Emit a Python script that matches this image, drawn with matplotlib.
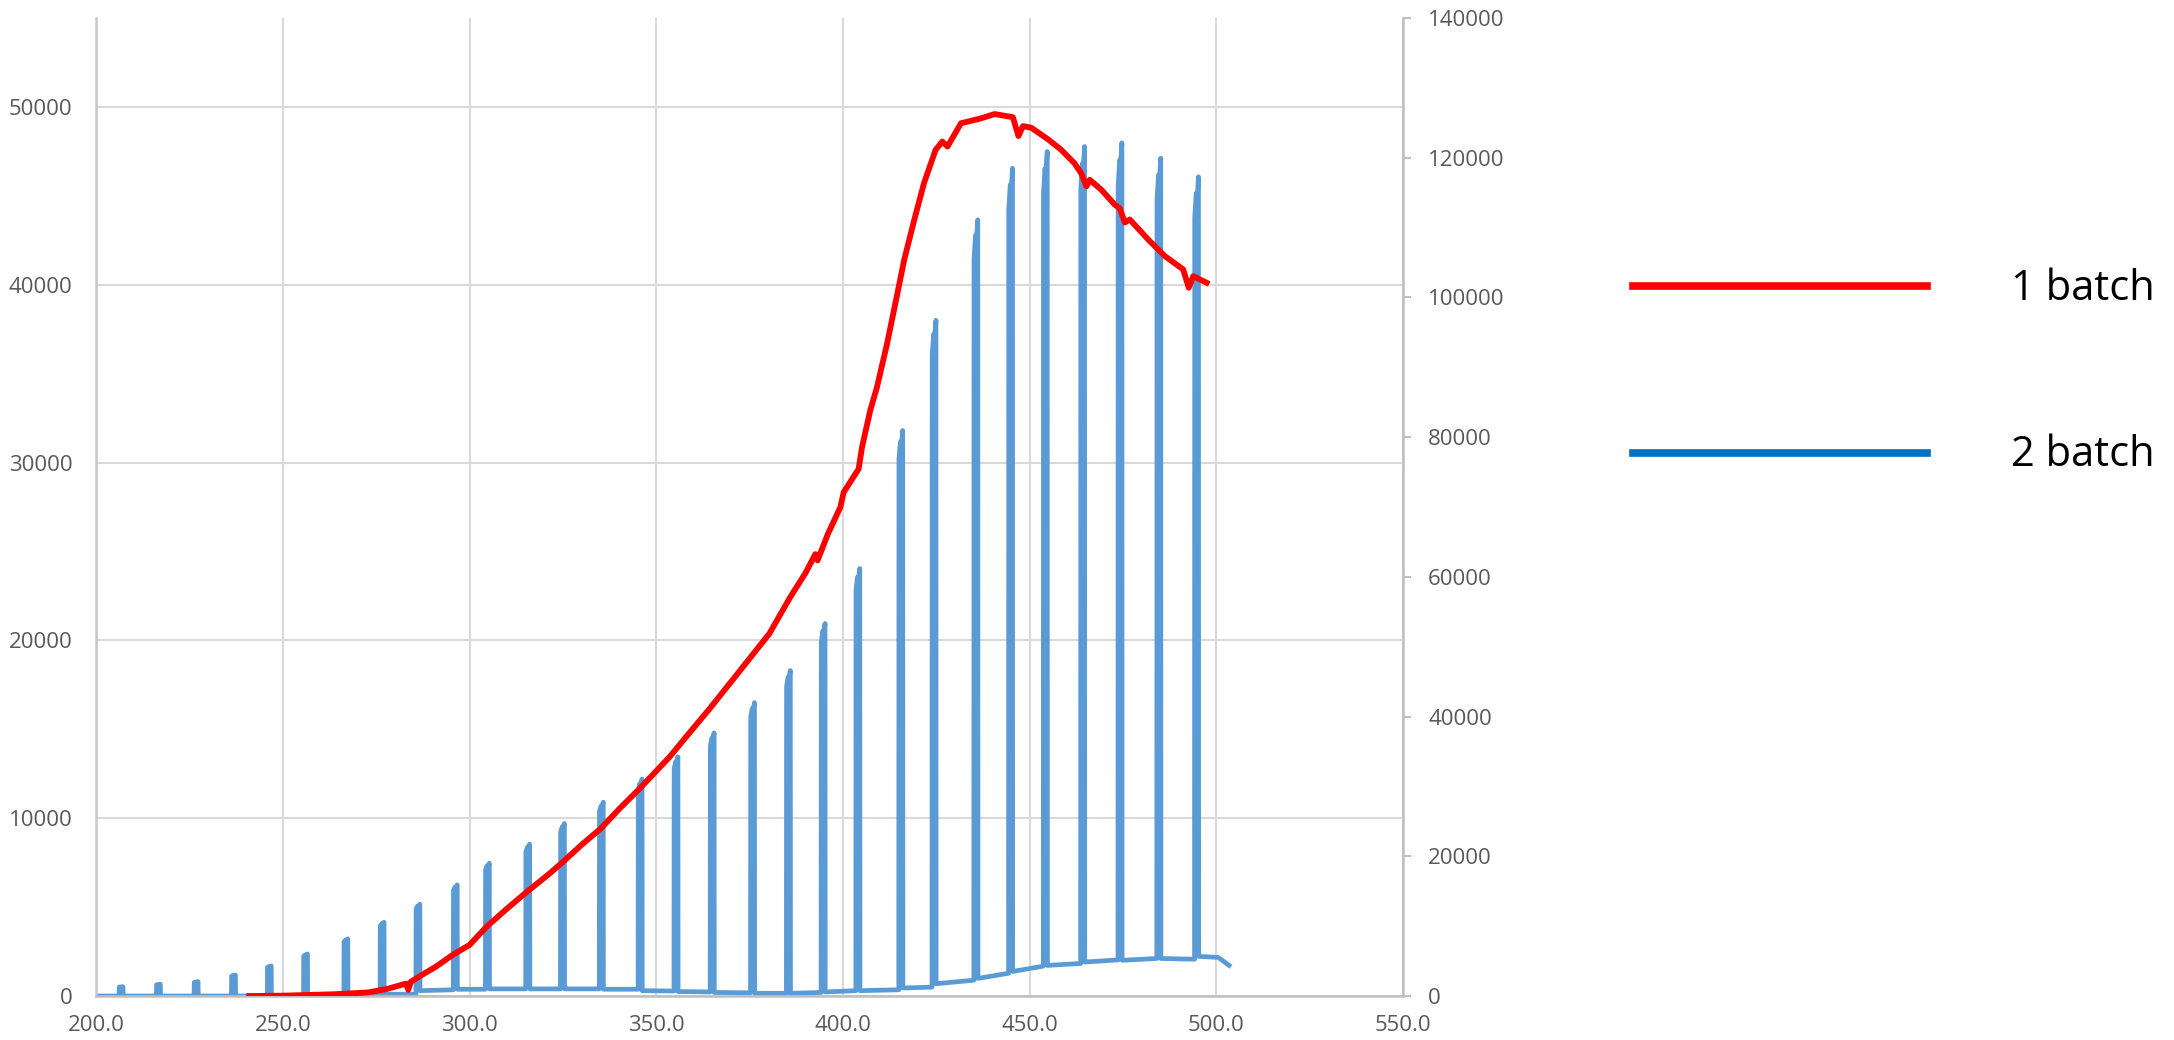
import matplotlib
matplotlib.use('Agg')
import numpy as np
import matplotlib.pyplot as plt
from matplotlib.lines import Line2D
from matplotlib.ticker import FuncFormatter

# 1 batch (red, right axis)
red_x = [241.0, 250, 263.6, 272.8, 278, 283, 283.6, 284.3, 287, 291, 295.4, 300,
         304.6, 309.7, 314.9, 321.5, 325.1, 330, 335.2, 340, 345.6, 353.6, 358.5,
         364.3, 371.4, 380.3, 385.8, 390, 392.6, 393.2, 396, 399.3, 400.2, 404.2,
         405.1, 407.3, 409.1, 411.8, 414.6, 416.4, 419.1, 421.7, 424.8, 426.6,
         428.0, 431.6, 437.0, 440.6, 445.5, 447.0, 448.2, 450.4, 454.9, 458.5,
         462.0, 463.8, 465.2, 466.1, 469.2, 472.8, 474.1, 475.5, 476.8, 481.7,
         486.2, 491.1, 492.6, 493.8, 497.4]
red_y = [0, 50, 250, 510, 1020, 1780, 890, 2040, 2930, 4200, 5850, 7310,
         9930, 12350, 14710, 17560, 19240, 21640, 24000, 26730, 29710, 34240, 37420,
         41130, 45890, 51880, 57020, 60580, 63250, 62360, 66180, 69970, 72110, 75450,
         78550, 83800, 87130, 93340, 100620, 105380, 111110, 116350, 121110, 122310,
         121600, 124930, 125640, 126250, 125800, 123100, 124520, 124300, 122640, 121110,
         119200, 117780, 115890, 116840, 115410, 113270, 112760, 110730, 111160, 108310,
         105920, 104010, 101390, 103040, 102100]

# 2 batch (blue, left axis): pulses
spike_x = [206.7, 216.7, 226.8, 236.8, 246.4, 256.1, 266.9, 276.6, 286.2, 296.2,
           304.8, 315.6, 324.9, 335.3, 345.7, 355.3, 365.0, 375.8, 385.4, 394.7,
           404.0, 415.5, 424.4, 435.6, 444.9, 454.2, 464.2, 474.2, 484.6, 494.7]
spike_top = [525, 660, 810, 1180, 1690, 2360, 3210, 4150, 5160, 6250,
             7470, 8540, 9700, 10900, 12200, 13450, 14800, 16500, 18300, 20950,
             24040, 31800, 38000, 43650, 46550, 47490, 47770, 47980, 47120, 46070]
base_before = [0, 0, 0, 0, 0, 0, 0, 50, 100, 350,
               380, 400, 400, 400, 380, 280, 230, 180, 150, 200,
               300, 350, 500, 890, 1280, 1680, 1830, 2030, 2110, 2070]
base_after = [0, 0, 0, 0, 0, 0, 50, 100, 300, 380,
              400, 400, 400, 380, 300, 250, 200, 150, 150, 230,
              300, 450, 690, 990, 1380, 1720, 1910, 2010, 2110, 2230]
blue_start = (200.0, 0)
blue_tail_x = [500.5, 503.4]
blue_tail_y = [2170, 1720]

bx = [blue_start[0]]
by = [blue_start[1]]
for c, t, b0, b1 in zip(spike_x, spike_top, base_before, base_after):
    bx += [c - 0.55, c - 0.5, c - 0.1, c + 0.1, c + 0.5, c + 0.55]
    by += [b0, t * 0.95, t * 0.98, t * 0.97, t, b1]
bx += blue_tail_x
by += blue_tail_y

plt.rcParams['font.family'] = ['Open Sans', 'DejaVu Sans']
grey = '#595959'

fig = plt.figure(figsize=(21.74, 10.4), dpi=100)
ax = fig.add_axes([0.0442, 0.0423, 0.6012, 0.9404])
ax2 = ax.twinx()

ax.plot(bx, by, color='#5B9BD5', lw=3.4, solid_joinstyle='round')
ax2.plot(red_x, red_y, color='#FF0000', lw=4.2, solid_joinstyle='round')

ax.set_xlim(200, 550)
ax.set_ylim(0, 55000)
ax2.set_ylim(0, 140000)
ax.set_xticks(np.arange(200, 551, 50))
ax.set_yticks(np.arange(0, 50001, 10000))
ax2.set_yticks(np.arange(0, 140001, 20000))
ax.xaxis.set_major_formatter(FuncFormatter(lambda v, p: '%.1f' % v))

ax.grid(True, color='#D9D9D9', lw=1.5)
ax.set_axisbelow(True)
for s in ['top', 'right']:
    ax.spines[s].set_visible(False)
ax2.spines['top'].set_visible(False)
ax2.spines['left'].set_visible(False)
ax2.spines['bottom'].set_visible(False)
ax.spines['left'].set_color('#C8C8C8')
ax.spines['bottom'].set_color('#BFBFBF')
ax2.spines['right'].set_color('#BFBFBF')
for s in [ax.spines['left'], ax.spines['bottom'], ax2.spines['right']]:
    s.set_linewidth(1.8)

ax.tick_params(axis='both', length=0, labelsize=16, labelcolor=grey)
ax.tick_params(axis='y', pad=17)
ax.tick_params(axis='x', pad=14)
ax2.tick_params(axis='y', length=6, width=1.5, color='#BFBFBF', labelsize=16,
                labelcolor=grey, pad=12)

# legend drawn at the right
fig.add_artist(Line2D([1633 / 2174, 1927 / 2174], [1 - 286 / 1040, 1 - 286 / 1040],
                      color='#FF0000', lw=5.5))
fig.add_artist(Line2D([1633 / 2174, 1927 / 2174], [1 - 453 / 1040, 1 - 453 / 1040],
                      color='#0070C0', lw=5.5))
fig.text(2011 / 2174, 1 - 289 / 1040, '1 batch', fontsize=30, va='center', ha='left')
fig.text(2011 / 2174, 1 - 455 / 1040, '2 batch', fontsize=30, va='center', ha='left')

fig.savefig('out.png', dpi=100)
